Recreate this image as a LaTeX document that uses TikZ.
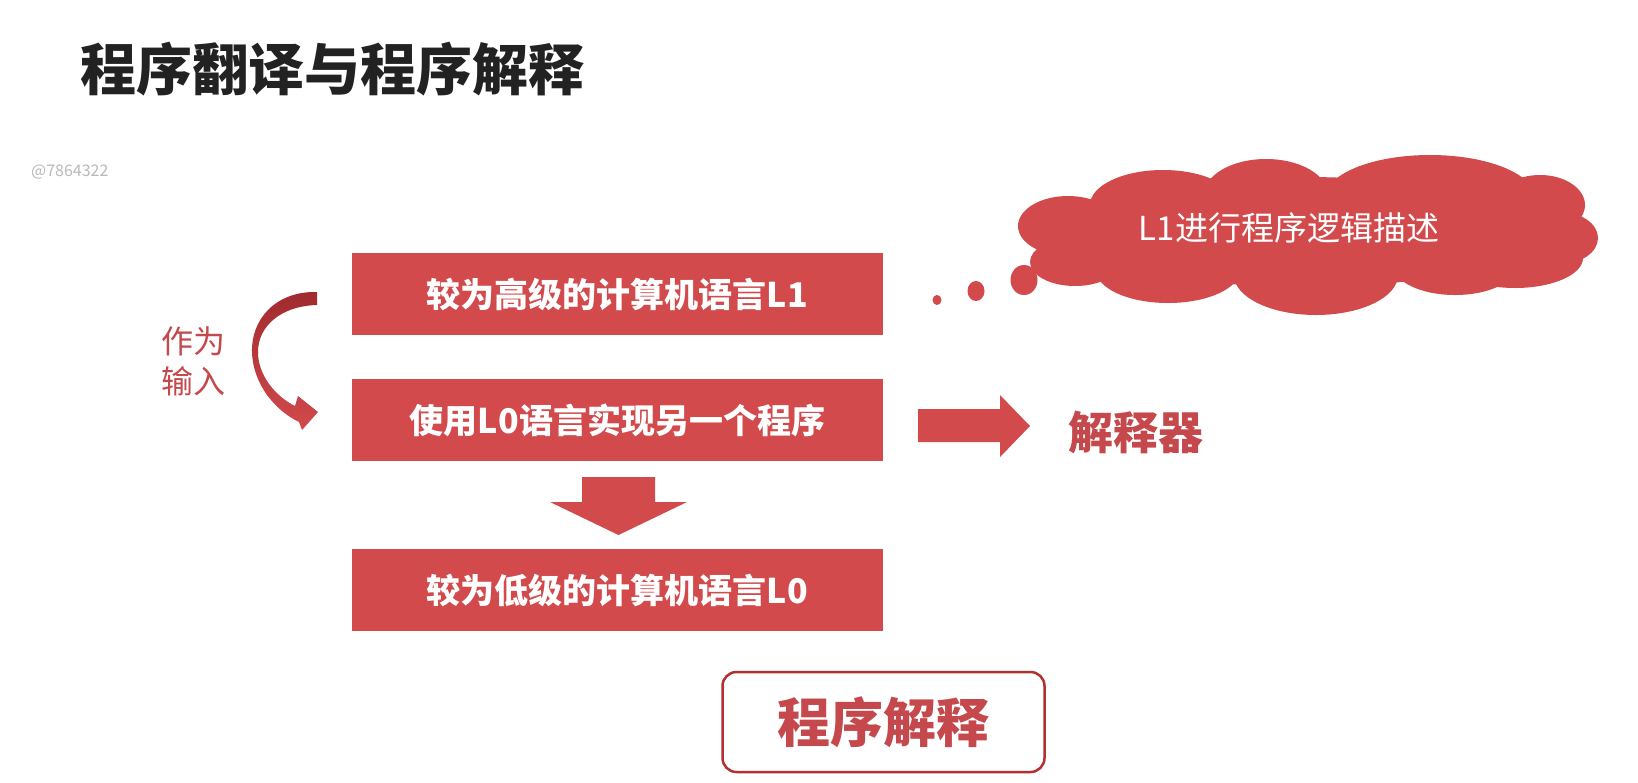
\documentclass[tikz,border=0pt]{standalone}
\usepackage{fontspec}
\setmainfont{Noto Sans CJK SC}
\usetikzlibrary{shapes.geometric}
\definecolor{boxred}{RGB}{210,74,76}
\definecolor{labred}{RGB}{196,72,76}
\definecolor{edgered}{RGB}{178,48,48}
\definecolor{darkred}{RGB}{160,42,46}
\definecolor{titleblack}{RGB}{34,34,34}
\definecolor{wmgray}{RGB}{185,185,185}
\begin{document}
\begin{tikzpicture}[x=1pt,y=-1pt,
  stepbox/.style={fill=boxred, minimum width=531, minimum height=82, inner sep=0,
    text=white, font=\fontsize{34}{36}\selectfont\bfseries},
  blockarrow/.style={fill=boxred},
  puff/.style={ellipse, fill=boxred, inner sep=0}]
\fill[white] (0,0) rectangle (1638,782);
\useasboundingbox (0,0) rectangle (1638,782);

% title and watermark
\node[anchor=west, inner sep=0, text=titleblack, font=\fontsize{56}{60}\selectfont\bfseries] (title) at (80,69) {程序翻译与程序解释};
\node[anchor=west, inner sep=0, text=wmgray, font=\fontsize{16}{18}\selectfont] (wm) at (31,172) {@7864322};

% boxes
\node[stepbox] (b1) at (617.5,294) {较为高级的计算机语言L1};
\node[stepbox] (b2) at (617.5,420) {使用L0语言实现另一个程序};
\node[stepbox] (b3) at (617.5,590) {较为低级的计算机语言L0};

% down block arrow
\fill[blockarrow] (582,477) -- (655,477) -- (655,502) -- (687,502) -- (618.5,535) -- (550,502) -- (582,502) -- cycle;

% right block arrow
\fill[blockarrow] (918,409) -- (1000,409) -- (1000,395) -- (1030,426) -- (1000,457) -- (1000,442) -- (918,442) -- cycle;
\node[anchor=west, inner sep=0, text=labred, font=\fontsize{45}{50}\selectfont\bfseries] (interp) at (1068,432) {解释器};

% curved arrow
\shade[top color=darkred, bottom color=boxred]
  (317,292) .. controls (275,291) and (251,320) .. (252,352)
  .. controls (253,385) and (276,411) .. (299,422)
  -- (302,430) -- (318,412) -- (298,396) -- (295,406)
  .. controls (275,396) and (258,375) .. (258,352)
  .. controls (258,326) and (281,306) .. (317,305) -- cycle;
\node[inner sep=0, align=center, text=labred, font=\fontsize{32}{40}\selectfont] (lab) at (193,361) {作为\\输入};

% thought cloud (union of puffs)
\begin{scope}[fill=boxred]
  \fill (1305,232) ellipse [x radius=230, y radius=55];
  \fill (1068,226) ellipse [x radius=50, y radius=30];
  \fill (1075,262) ellipse [x radius=45, y radius=24];
  \fill (1163,205) ellipse [x radius=73, y radius=35];
  \fill (1266,195) ellipse [x radius=62, y radius=36];
  \fill (1430,198) ellipse [x radius=105, y radius=43];
  \fill (1540,205) ellipse [x radius=45, y radius=30];
  \fill (1560,238) ellipse [x radius=38, y radius=26];
  \fill (1515,258) ellipse [x radius=68, y radius=30];
  \fill (1455,265) ellipse [x radius=62, y radius=30];
  \fill (1316,275) ellipse [x radius=82, y radius=40];
  \fill (1168,270) ellipse [x radius=72, y radius=33];
\end{scope}
\node[inner sep=0, text=white, font=\fontsize{33}{36}\selectfont] (cloudtext) at (1289,228) {L1进行程序逻辑描述};
\node[puff, minimum width=9, minimum height=10] (d1) at (937,300) {};
\node[puff, minimum width=17, minimum height=20] (d2) at (976,291) {};
\node[puff, minimum width=27, minimum height=30] (d3) at (1024,280) {};

% bottom label
\node[draw=edgered, line width=2.5, rounded corners=14, fill=white, minimum width=322,
  minimum height=100, inner sep=0, text=labred, font=\fontsize{53}{58}\selectfont\bfseries] (mode) at (883.5,722) {程序解释};
\end{tikzpicture}
\end{document}
